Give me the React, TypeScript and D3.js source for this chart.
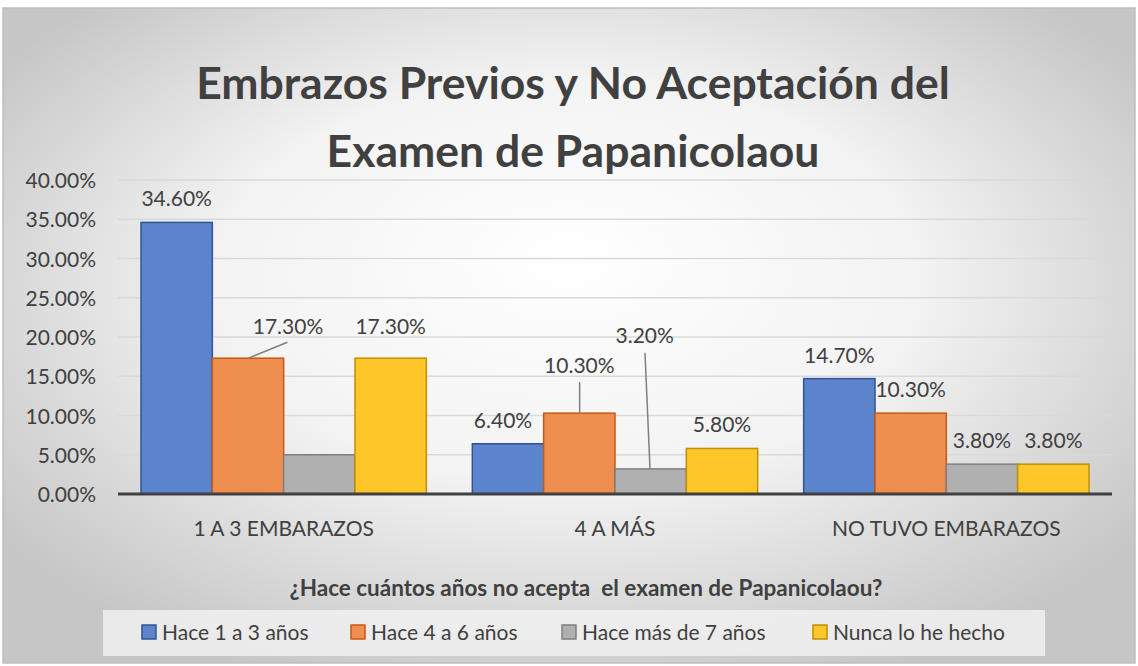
import React from "react";
import * as d3 from "d3";

const categories = ["1 A 3 EMBARAZOS", "4 A MÁS", "NO TUVO EMBARAZOS"];
const seriesNames = ["Hace 1 a 3 años", "Hace 4 a 6 años", "Hace más de 7 años", "Nunca lo he hecho"];
// values per series, in category order
const hace1a3 = [34.6, 6.4, 14.7];
const hace4a6 = [17.3, 10.3, 10.3];
const haceMas7 = [5.0, 3.2, 3.8];
const nunca = [17.3, 5.8, 3.8];
// labels shown on the chart (null = no label)
const labels1a3 = ["34.60%", "6.40%", "14.70%"];
const labels4a6 = ["17.30%", "10.30%", "10.30%"];
const labelsMas7 = [null, "3.20%", "3.80%"];
const labelsNunca = ["17.30%", "5.80%", "3.80%"];
const yTicks = [0, 5, 10, 15, 20, 25, 30, 35, 40];

const fills = ["#5b84cc", "#ee8f50", "#b0b0b0", "#fdc72a"];
const strokes = ["#2f5597", "#c55a11", "#7f7f7f", "#bf9000"];

// labels that were dragged away from the bar top (dx, dy in px), key = series-category
const labelOffsets: Record<string, [number, number]> = {
  "1-0": [40, -8],
  "3-0": [0, -8],
  "1-1": [0, -24],
  "2-1": [-6, -110],
  "0-1": [-5, 0],
};

const W = 1138;
const H = 666;

export default function App() {
  const series = [hace1a3, hace4a6, haceMas7, nunca];
  const labs = [labels1a3, labels4a6, labelsMas7, labelsNunca];

  const left = 118;
  const right = 1112;
  const top = 180;
  const bottom = 494;

  const x0 = d3.scaleBand<string>().domain(categories).range([left, right]).padding(0);
  const gap = 23;
  const x1 = d3
    .scaleBand<number>()
    .domain(d3.range(seriesNames.length))
    .range([gap, x0.bandwidth() - gap])
    .padding(0);
  const y = d3.scaleLinear().domain([0, 40]).range([bottom, top]);

  const font = "Lato, 'Open Sans', sans-serif";
  const textCol = "#404040";

  const legendX = [142, 351, 562, 813];
  const barX = (ci: number, si: number) => (x0(categories[ci]) ?? 0) + (x1(si) ?? 0);

  return (
    <svg width={W} height={H} style={{ position: "absolute", left: 0, top: 0 }} fontFamily={font}>
      <defs>
        <radialGradient id="bg" cx="50%" cy="45%" r="62%" fx="50%" fy="38%">
          <stop offset="0%" stopColor="#ffffff" />
          <stop offset="50%" stopColor="#f3f3f3" />
          <stop offset="100%" stopColor="#c6c6c6" />
        </radialGradient>
      </defs>
      <rect x={0} y={0} width={W} height={H} fill="#ffffff" />
      <rect x={3} y={8} width={1132} height={655} fill="url(#bg)" stroke="#bfbfbf" strokeWidth={1.5} />

      {/* Title */}
      <text x={573} y={99} textAnchor="middle" fontSize={44.5} fontWeight="bold" fill={textCol}>
        Embrazos Previos y No Aceptación del
      </text>
      <text x={573} y={167} textAnchor="middle" fontSize={44.5} fontWeight="bold" fill={textCol}>
        Examen de Papanicolaou
      </text>

      {/* Gridlines and y ticks */}
      {yTicks.map((t) => (
        <g key={t}>
          {t > 0 && <line x1={left} x2={right} y1={y(t)} y2={y(t)} stroke="#d9d9d9" strokeWidth={1.5} />}
          <text x={96} y={y(t) + 8} textAnchor="end" fontSize={21} fill={textCol}>
            {t.toFixed(2)}%
          </text>
        </g>
      ))}

      {/* Bars */}
      {categories.map((c, ci) => (
        <g key={c}>
          {series.map((s, si) => (
            <rect
              key={si}
              x={barX(ci, si)}
              y={y(s[ci])}
              width={x1.bandwidth()}
              height={y(0) - y(s[ci])}
              fill={fills[si]}
              stroke={strokes[si]}
              strokeWidth={1.5}
            />
          ))}
        </g>
      ))}

      {/* Axis line */}
      <line x1={left} x2={right} y1={bottom} y2={bottom} stroke="#404040" strokeWidth={3} />

      {/* Leader lines */}
      <line x1={barX(0, 1) + 36} y1={y(hace4a6[0])} x2={barX(0, 1) + 75} y2={y(hace4a6[0]) - 16} stroke="#808080" strokeWidth={1.5} />
      <line x1={barX(1, 1) + 36} y1={y(hace4a6[1])} x2={barX(1, 1) + 36} y2={y(hace4a6[1]) - 31} stroke="#808080" strokeWidth={1.5} />
      <line x1={barX(1, 2) + 35} y1={y(haceMas7[1])} x2={barX(1, 2) + 30} y2={y(haceMas7[1]) - 116} stroke="#808080" strokeWidth={1.5} />

      {/* Data labels */}
      {categories.map((c, ci) =>
        series.map((s, si) => {
          const lab = labs[si][ci];
          if (!lab) return null;
          const off = labelOffsets[`${si}-${ci}`] ?? [0, 0];
          const cx = barX(ci, si) + x1.bandwidth() / 2 + off[0];
          const cy = y(s[ci]) - 16 + off[1];
          return (
            <text key={`${si}-${ci}`} x={cx} y={cy} textAnchor="middle" fontSize={21} fill={textCol}>
              {lab}
            </text>
          );
        })
      )}

      {/* Category labels */}
      {categories.map((c) => (
        <text key={c} x={(x0(c) ?? 0) + x0.bandwidth() / 2} y={536} textAnchor="middle" fontSize={21} fill={textCol}>
          {c}
        </text>
      ))}

      {/* Axis title */}
      <text x={586} y={596} textAnchor="middle" fontSize={22.5} fontWeight="bold" fill={textCol} style={{ whiteSpace: "pre" }}>
        ¿Hace cuántos años no acepta  el examen de Papanicolaou?
      </text>

      {/* Legend */}
      <rect x={103} y={610} width={942} height={46} fill="#f2f2f2" opacity={0.8} />
      {seriesNames.map((n, i) => (
        <g key={n}>
          <rect x={legendX[i]} y={625} width={14} height={14} fill={fills[i]} stroke={strokes[i]} strokeWidth={1.5} />
          <text x={legendX[i] + 20} y={640} fontSize={21} fill={textCol}>
            {n}
          </text>
        </g>
      ))}
    </svg>
  );
}
